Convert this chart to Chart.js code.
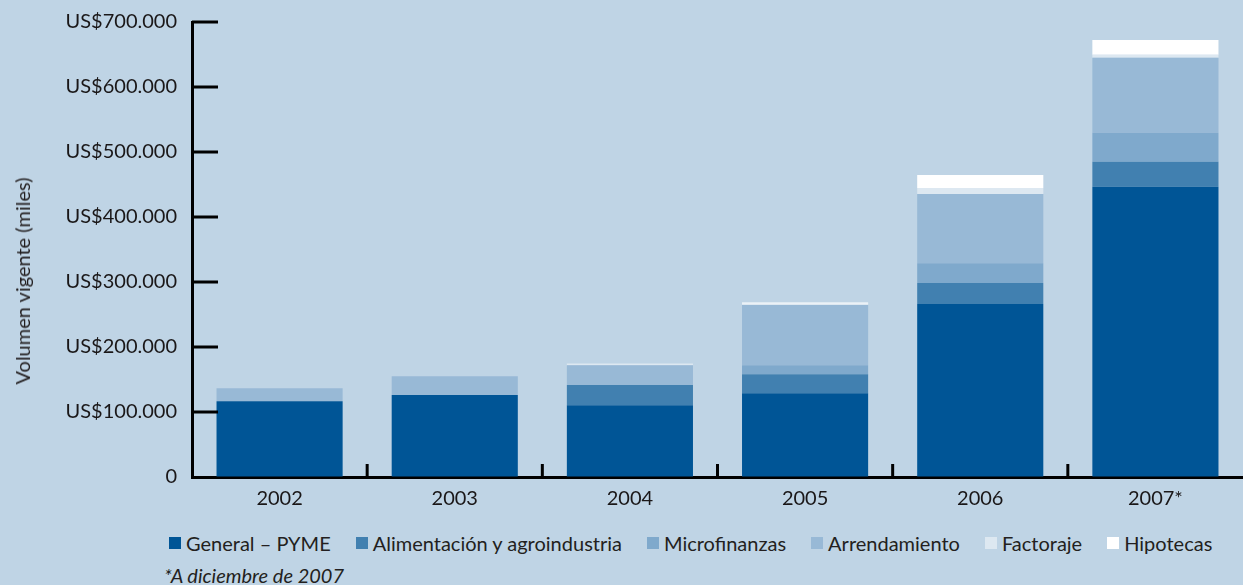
<!DOCTYPE html>
<html><head><meta charset="utf-8">
<script src="https://cdn.jsdelivr.net/npm/chart.js@4/dist/chart.umd.min.js"></script>
<style>
html,body{margin:0;padding:0;background:#bfd4e5;width:1243px;height:585px;overflow:hidden;font-family:Lato,sans-serif;}
#wrap{position:absolute;left:0;top:0;width:1243px;height:515px;}
#ytitle{position:absolute;left:22px;top:281px;transform:translate(-50%,-50%) rotate(-90deg);white-space:nowrap;font-size:20px;color:#231f20;}
#legend{position:absolute;left:169px;top:531px;display:flex;align-items:center;font-size:20px;color:#231f20;white-space:nowrap;}
#legend .item{display:flex;align-items:center;margin-right:25px;}
#legend .box{width:12px;height:12px;margin-right:5px;}
#note{position:absolute;left:164px;top:563px;font-size:20px;font-style:italic;color:#231f20;white-space:nowrap;}
</style></head>
<body>
<div id="wrap"><canvas id="c" width="1243" height="515"></canvas></div>
<div id="ytitle">Volumen vigente (miles)</div>
<div id="legend"></div>
<div id="note">*A diciembre de 2007</div>
<script>
const years = ['2002','2003','2004','2005','2006','2007*'];
const seriesNames = ['General – PYME','Alimentación y agroindustria','Microfinanzas','Arrendamiento','Factoraje','Hipotecas'];
const generalPyme   = [116500, 126000, 110500, 129000, 266000, 446500];
const alimentacion  = [0, 0, 31000, 29000, 32500, 38500];
const microfinanzas = [0, 0, 0, 14000, 30500, 44500];
const arrendamiento = [20000, 29000, 30500, 92500, 106500, 115500];
const factoraje     = [0, 0, 2500, 2000, 9000, 4500];
const hipotecas     = [0, 0, 0, 2000, 20000, 23000];
const yTicks = [0, 100000, 200000, 300000, 400000, 500000, 600000, 700000];
const colors = ['#005596','#4180b0','#7fa9cc','#98b9d6','#dde8f1','#ffffff'];
const seriesData = [generalPyme, alimentacion, microfinanzas, arrendamiento, factoraje, hipotecas];

function fmt(v){
  if (v === 0) return '0';
  return 'US$' + String(v).replace(/\B(?=(\d{3})+(?!\d))/g, '.');
}

const innerTicks = {
  id: 'innerTicks',
  afterDatasetsDraw(chart){
    const {ctx, scales:{x, y}, chartArea} = chart;
    ctx.save();
    ctx.strokeStyle = '#000';
    ctx.lineWidth = 3;
    ctx.beginPath();
    y.ticks.forEach((t, i) => {
      if (t.value === 0) return;
      const py = y.getPixelForTick(i);
      ctx.moveTo(chartArea.left, py);
      ctx.lineTo(chartArea.left + 26, py);
    });
    for (let i = 1; i < x.ticks.length; i++){
      const px = (x.getPixelForTick(i - 1) + x.getPixelForTick(i)) / 2;
      ctx.moveTo(px, chartArea.bottom);
      ctx.lineTo(px, chartArea.bottom - 13);
    }
    ctx.stroke();
    ctx.restore();
  }
};

new Chart(document.getElementById('c'), {
  type: 'bar',
  data: {
    labels: years,
    datasets: seriesNames.map((n, i) => ({
      label: n,
      data: seriesData[i],
      backgroundColor: colors[i],
      borderWidth: 0,
      barPercentage: 0.72,
      categoryPercentage: 1.0
    }))
  },
  options: {
    responsive: false,
    animation: false,
    layout: { padding: { top: 22, right: 0, left: 0, bottom: 0 } },
    plugins: { legend: { display: false }, tooltip: { enabled: false } },
    scales: {
      x: {
        stacked: true,
        grid: { display: true, color: 'rgba(0,0,0,0)', drawOnChartArea: false, drawTicks: false },
        border: { display: true, color: '#000', width: 3 },
        ticks: { color: '#1a1718', font: { family: 'Lato', size: 20 }, padding: 10 },
        afterFit(s){ s.height = 38; s.paddingLeft = 0; s.paddingRight = 0; }
      },
      y: {
        stacked: true,
        min: 0, max: 700000,
        afterBuildTicks(s){ s.ticks = yTicks.map(v => ({ value: v })); },
        grid: { display: true, color: 'rgba(0,0,0,0)', drawOnChartArea: false, drawTicks: false },
        border: { display: true, color: '#000', width: 3 },
        ticks: { color: '#1a1718', font: { family: 'Lato', size: 20 }, padding: 15, callback: v => fmt(v) },
        afterFit(s){ s.width = 192; s.paddingTop = 0; s.paddingBottom = 0; }
      }
    }
  },
  plugins: [innerTicks]
});

const lg = document.getElementById('legend');
seriesNames.forEach((n, i) => {
  const it = document.createElement('div'); it.className = 'item';
  const b = document.createElement('div'); b.className = 'box'; b.style.background = colors[i];
  const t = document.createElement('span'); t.textContent = n;
  it.appendChild(b); it.appendChild(t); lg.appendChild(it);
});
</script>
</body></html>
